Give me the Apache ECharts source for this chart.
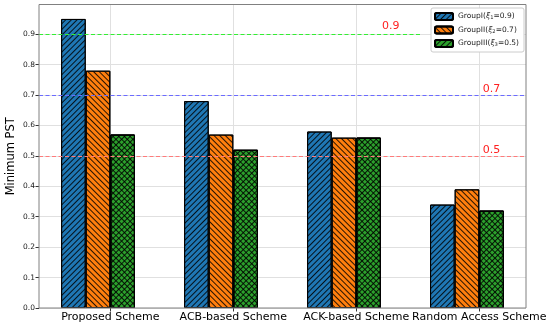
<!DOCTYPE html>
<html>
<head>
<meta charset="utf-8">
<script src="https://cdn.jsdelivr.net/npm/echarts@6/dist/echarts.min.js"></script>
<style>html,body{margin:0;padding:0;background:#fff}#c{width:550px;height:326px}</style>
</head>
<body>
<div id="c"></div>
<script>
// ---- data ----
const categories = ['Proposed Scheme', 'ACB-based Scheme', 'ACK-based Scheme', 'Random Access Scheme'];
const seriesNames = ['GroupI(ξ1=0.9)', 'GroupII(ξ2=0.7)', 'GroupIII(ξ3=0.5)'];
const groupI = [0.95, 0.68, 0.58, 0.34];
const groupII = [0.78, 0.57, 0.56, 0.39];
const groupIII = [0.57, 0.52, 0.56, 0.32];
const thresholds = [0.9, 0.7, 0.5];
const yTicks = [0, 0.1, 0.2, 0.3, 0.4, 0.5, 0.6, 0.7, 0.8, 0.9];
const xTicks = [0, 1, 2, 3];

// ---- layout / style ----
const FONT = 'DejaVu Sans';
const offsets = [-0.3, -0.1, 0.1];
const xMin = -0.58, xMax = 3.38, yMax = 0.9975;

const chart = echarts.init(document.getElementById('c'), null, {renderer: 'canvas'});

function hatch(rot) {
  return {symbol: 'rect', symbolSize: 1, dashArrayX: [1, 0], dashArrayY: [1, 2.2], rotation: rot, color: 'rgba(0,0,0,0.85)'};
}
const colors = ['#1f77b4', '#ff7f0e', '#2ca02c'];
const decals = [hatch(-Math.PI / 4), hatch(Math.PI / 4), hatch(-Math.PI / 4)];
const values = [groupI, groupII, groupIII];

const series = values.map((vals, s) => ({
  name: seriesNames[s],
  type: 'bar',
  barWidth: 24.6,
  barGap: '-100%',
  data: vals.map((v, i) => [i + offsets[s], v]),
  itemStyle: {color: colors[s], borderColor: '#000', borderWidth: 1, decal: decals[s]},
  emphasis: {disabled: true},
  silent: true,
  z: 3
}));
// second hatch direction for the cross-hatched group
series.push({
  name: seriesNames[2] + ' ',
  type: 'bar',
  barWidth: 24.6,
  barGap: '-100%',
  data: groupIII.map((v, i) => [i + offsets[2], v]),
  itemStyle: {color: 'rgba(0,0,0,0)', borderColor: '#000', borderWidth: 1, decal: hatch(Math.PI / 4)},
  emphasis: {disabled: true},
  silent: true,
  z: 3
});

const lineColors = ['#33ee33', '#6b6bff', '#ff7b7b'];
series[0].markLine = {
  silent: true,
  symbol: 'none',
  label: {show: false},
  z: 4,
  data: [
    [{coord: [xMin, thresholds[0]], lineStyle: {color: lineColors[0], type: [4, 2.5], width: 1.2}},
     {coord: [2.52, thresholds[0]]}],
    {yAxis: thresholds[1], lineStyle: {color: lineColors[1], type: [4, 2.5], width: 1.2}},
    {yAxis: thresholds[2], lineStyle: {color: lineColors[2], type: [4, 2.5], width: 1.2}}
  ]
};
const annot = [[2.28, 0.925], [3.1, 0.72], [3.1, 0.52]];
series[0].markPoint = {
  silent: true,
  symbol: 'circle',
  symbolSize: 0,
  data: thresholds.map((t, k) => ({
    coord: annot[k],
    label: {show: true, formatter: t.toFixed(1), color: '#ff2020', fontSize: 11, fontFamily: FONT, position: 'inside'}
  }))
};

const legendFmt = {
  'GroupI(ξ1=0.9)': '{a|GroupI(}{xi|ξ}{s|1}{a|=0.9)}',
  'GroupII(ξ2=0.7)': '{a|GroupII(}{xi|ξ}{s|2}{a|=0.7)}',
  'GroupIII(ξ3=0.5)': '{a|GroupIII(}{xi|ξ}{s|3}{a|=0.5)}'
};

chart.setOption({
  animation: false,
  backgroundColor: '#fff',
  grid: {left: 39, right: 24, top: 4.5, bottom: 18, outerBoundsMode: 'none', containLabel: false,
         show: true, borderColor: '#808080', borderWidth: 1, backgroundColor: 'transparent', z: 5},
  legend: {
    orient: 'vertical', left: 431, top: 8,
    itemWidth: 18, itemHeight: 7, itemGap: 4.5,
    padding: [4, 5, 4, 3],
    backgroundColor: '#fff', borderColor: '#ccc', borderWidth: 1, borderRadius: 2,
    data: seriesNames,
    formatter: n => legendFmt[n],
    textStyle: {
      fontFamily: FONT, fontSize: 7.5, color: '#222',
      rich: {
        a: {fontFamily: FONT, fontSize: 7.5, color: '#222'},
        xi: {fontFamily: FONT, fontSize: 7.5, fontStyle: 'italic', color: '#222'},
        s: {fontFamily: FONT, fontSize: 5.2, color: '#222', verticalAlign: 'bottom', padding: [3, 0, 0, 0]}
      }
    }
  },
  xAxis: {
    type: 'value', min: xMin, max: xMax, interval: 1,
    axisLine: {show: false, onZero: false},
    axisTick: {show: true, length: 3.5, lineStyle: {color: '#333'}, customValues: xTicks},
    axisLabel: {customValues: xTicks, formatter: v => categories[Math.round(v)] || '', fontFamily: FONT, fontSize: 11, color: '#000', margin: 4},
    splitLine: {show: true, lineStyle: {color: '#e0e0e0', width: 1}}
  },
  yAxis: {
    type: 'value', min: 0, max: yMax, interval: 0.1,
    name: 'Minimum PST', nameLocation: 'middle', nameGap: 22, nameMoveOverlap: false,
    nameTextStyle: {fontFamily: FONT, fontSize: 11.5, color: '#000'},
    axisLine: {show: false, onZero: false},
    axisTick: {show: true, length: 3.5, lineStyle: {color: '#333'}, customValues: yTicks},
    axisLabel: {customValues: yTicks, formatter: v => v.toFixed(1), fontFamily: FONT, fontSize: 7.5, color: '#222', margin: 4},
    splitLine: {show: true, lineStyle: {color: '#e0e0e0', width: 1}}
  },
  series: series
});
</script>
</body>
</html>
